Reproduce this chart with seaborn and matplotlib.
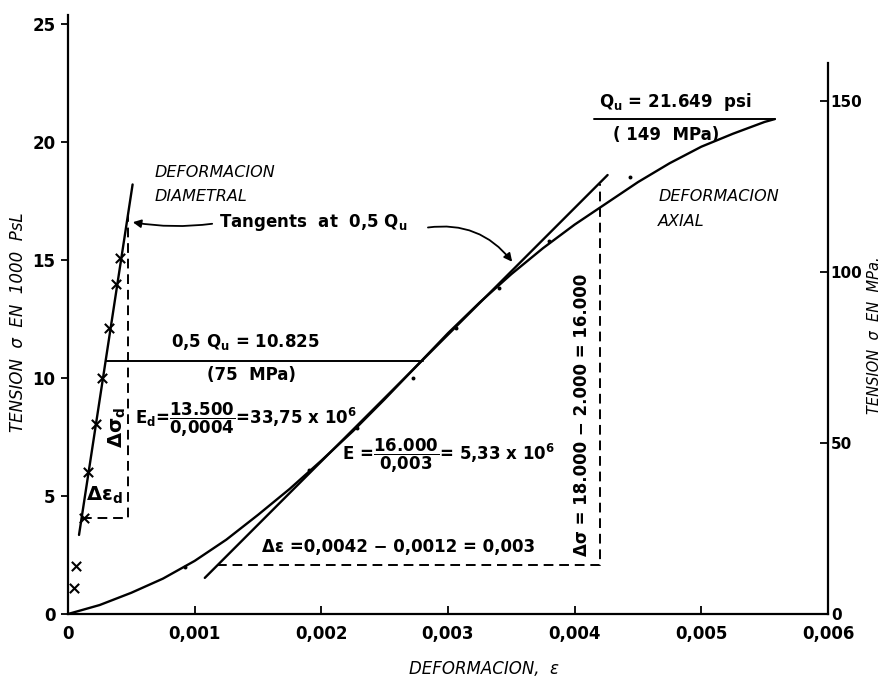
import matplotlib
matplotlib.use("Agg")
import matplotlib.pyplot as plt
import seaborn as sns
from matplotlib.ticker import FuncFormatter

# curva de deformacion axial (tension en 1000 psi)
axial_strain = [0, 0.00025, 0.0005, 0.00075, 0.001, 0.00125, 0.0015, 0.00175, 0.002,
                0.00225, 0.0025, 0.00275, 0.003, 0.00325, 0.0035, 0.00375, 0.004,
                0.00425, 0.0045, 0.00475, 0.005, 0.00525, 0.0055, 0.00558]
axial_stress = [0, 0.38, 0.9, 1.5, 2.25, 3.15, 4.2, 5.3, 6.5,
                7.75, 9.1, 10.5, 11.9, 13.2, 14.4, 15.5, 16.5,
                17.4, 18.3, 19.1, 19.8, 20.35, 20.85, 20.97]

# puntos medidos sobre la curva axial
axial_pts_strain = [0.00092, 0.0019, 0.00228, 0.00272, 0.00306, 0.0034, 0.0038, 0.00444]
axial_pts_stress = [2.0, 6.1, 7.9, 10.0, 12.1, 13.8, 15.8, 18.5]

# deformacion diametral (x)
diam_strain = [0.00005, 0.00006, 0.00013, 0.00016, 0.00022, 0.00027, 0.00032, 0.00038, 0.00041]
diam_stress = [1.1, 2.05, 4.05, 6.0, 8.05, 10.0, 12.1, 14.0, 15.1]

# tangentes a 0,5 Qu
tan_diam_strain = [0.000087, 0.00051]
tan_diam_stress = [3.35, 18.2]
tan_axial_strain = [0.00108, 0.00426]
tan_axial_stress = [1.53, 18.6]

# lineas auxiliares
half_qu_strain = [0.000297, 0.0028]
half_qu_stress = [10.72, 10.72]
qu_strain = [0.00415, 0.00558]
qu_stress = [20.97, 20.97]
dash_diam_strain = [0.000108, 0.00047, 0.00047]
dash_diam_stress = [4.07, 4.07, 16.86]
dash_axial_strain = [0.00118, 0.0042, 0.0042]
dash_axial_stress = [2.07, 2.07, 18.2]

x_ticks = [0, 0.001, 0.002, 0.003, 0.004, 0.005, 0.006]
y_ticks = [0, 5, 10, 15, 20, 25]
mpa_ticks = [0, 50, 100, 150]
KSI_TO_MPA = 6.895

sns.set_style("ticks")
plt.rcParams['font.family'] = ['DejaVu Sans']
plt.rcParams['mathtext.default'] = 'bf'
for k in ['text.color', 'axes.labelcolor', 'xtick.color', 'ytick.color', 'axes.edgecolor']:
    plt.rcParams[k] = 'black'

fig = plt.figure(figsize=(8.82, 6.77), dpi=100)
ax = fig.add_axes([68 / 882, 63 / 677, 760 / 882, 599 / 677])

lw = 1.7
sns.lineplot(x=axial_strain, y=axial_stress, ax=ax, color='k', lw=lw, sort=False, estimator=None)
sns.lineplot(x=tan_axial_strain, y=tan_axial_stress, ax=ax, color='k', lw=lw, sort=False, estimator=None)
sns.lineplot(x=tan_diam_strain, y=tan_diam_stress, ax=ax, color='k', lw=lw, sort=False, estimator=None)
sns.lineplot(x=half_qu_strain, y=half_qu_stress, ax=ax, color='k', lw=1.4, sort=False, estimator=None)
sns.lineplot(x=qu_strain, y=qu_stress, ax=ax, color='k', lw=1.4, sort=False, estimator=None)
sns.lineplot(x=dash_diam_strain, y=dash_diam_stress, ax=ax, color='k', lw=1.4,
             sort=False, estimator=None, linestyle=(0, (5, 3)))
sns.lineplot(x=dash_axial_strain, y=dash_axial_stress, ax=ax, color='k', lw=1.4,
             sort=False, estimator=None, linestyle=(0, (5, 3)))
sns.scatterplot(x=diam_strain, y=diam_stress, ax=ax, marker='x', color='k', s=45, linewidth=1.5, zorder=5)
sns.scatterplot(x=axial_pts_strain, y=axial_pts_stress, ax=ax, color='k', s=8, linewidth=0, zorder=5)

ax.set_xlim(0, 0.006)
ax.set_ylim(0, 25.38)
ax.set_xticks(x_ticks)
ax.set_yticks(y_ticks)
ax.xaxis.set_major_formatter(FuncFormatter(lambda v, p: "0" if v == 0 else f"{v:.3f}".replace(".", ",")))
ax.tick_params(axis='x', direction='in', length=6, width=1.3, pad=8, labelsize=12)
ax.tick_params(axis='y', direction='out', length=5, width=1.3, pad=4, labelsize=12)
for lab in ax.get_xticklabels() + ax.get_yticklabels():
    lab.set_fontweight('bold')
for s in ['top', 'right']:
    ax.spines[s].set_visible(False)
for s in ['left', 'bottom']:
    ax.spines[s].set_linewidth(1.6)

ax.set_xlabel("DEFORMACION,  ε", fontsize=12, style='italic')
ax.set_ylabel("TENSION  σ  EN  1000  PsL", fontsize=12, style='italic')
ax.xaxis.set_label_coords(416 / 760, -46 / 599)
ax.yaxis.set_label_coords(-41 / 760, 292 / 599)

ax2 = ax.twinx()
ax2.set_ylim(0, 25.38 * KSI_TO_MPA)
ax2.set_yticks(mpa_ticks)
ax2.tick_params(axis='y', direction='in', length=6, width=1.3, pad=2, labelsize=11)
for lab in ax2.get_yticklabels():
    lab.set_fontweight('bold')
for s in ['top', 'left', 'bottom']:
    ax2.spines[s].set_visible(False)
ax2.spines['right'].set_linewidth(1.6)
ax2.spines['right'].set_bounds(0, 161)
ax2.set_ylabel("TENSION  σ  EN  MPa.", fontsize=10.5, style='italic', rotation=90)
ax2.yaxis.set_label_coords(1 + 39 / 760, 279 / 599)

# textos
tb = dict(fontsize=12, fontweight='bold', color='k')
ax.text(0.000685, 18.69, "DEFORMACION", fontsize=11.5, style='italic', va='center')
ax.text(0.000685, 17.67, "DIAMETRAL", fontsize=11.5, style='italic', va='center')
ax.text(0.00466, 17.67, "DEFORMACION", fontsize=11.5, style='italic', va='center')
ax.text(0.00466, 16.61, "AXIAL", fontsize=11.5, style='italic', va='center')

ax.text(0.00119, 16.57, "Tangents  at  0,5 Q$_u$", va='center', ha='left', **tb)
ax.annotate("", xy=(0.00049, 16.62), xytext=(0.00116, 16.55),
            arrowprops=dict(arrowstyle='-|>', color='k', lw=1.3, mutation_scale=12,
                            connectionstyle='arc3,rad=-0.08'))
ax.annotate("", xy=(0.00352, 14.83), xytext=(0.00282, 16.36),
            arrowprops=dict(arrowstyle='-|>', color='k', lw=1.3, mutation_scale=12,
                            connectionstyle='arc3,rad=-0.3'))

ax.text(0.0014, 11.53, "0,5 Q$_u$ = 10.825", ha='center', va='center', **tb)
ax.text(0.00145, 10.13, "(75  MPa)", ha='center', va='center', **tb)
ax.text(0.000528, 8.22, r"E$_d$=$\dfrac{13.500}{0{,}0004}$=33,75 x 10$^6$", ha='left', va='center', **tb)
ax.text(0.00216, 6.69, r"E =$\dfrac{16.000}{0{,}003}$= 5,33 x 10$^6$", ha='left', va='center', **tb)
ax.text(0.00153, 2.84, "Δε =0,0042 − 0,0012 = 0,003", ha='left', va='center', **tb)
ax.text(0.00406, 8.43, "Δσ = 18.000 − 2.000 = 16.000", ha='center', va='center', rotation=90, **tb)
ax.text(0.000386, 7.92, "Δσ$_d$", ha='center', va='center', rotation=90, fontsize=14, fontweight='bold')
ax.text(0.00029, 5.04, "Δε$_d$", ha='center', va='center', fontsize=14, fontweight='bold')
ax.text(0.00479, 21.69, "Q$_u$ = 21.649  psi", ha='center', va='center', **tb)
ax.text(0.00472, 20.3, "( 149  MPa)", ha='center', va='center', **tb)

fig.savefig("out.png", dpi=100)
